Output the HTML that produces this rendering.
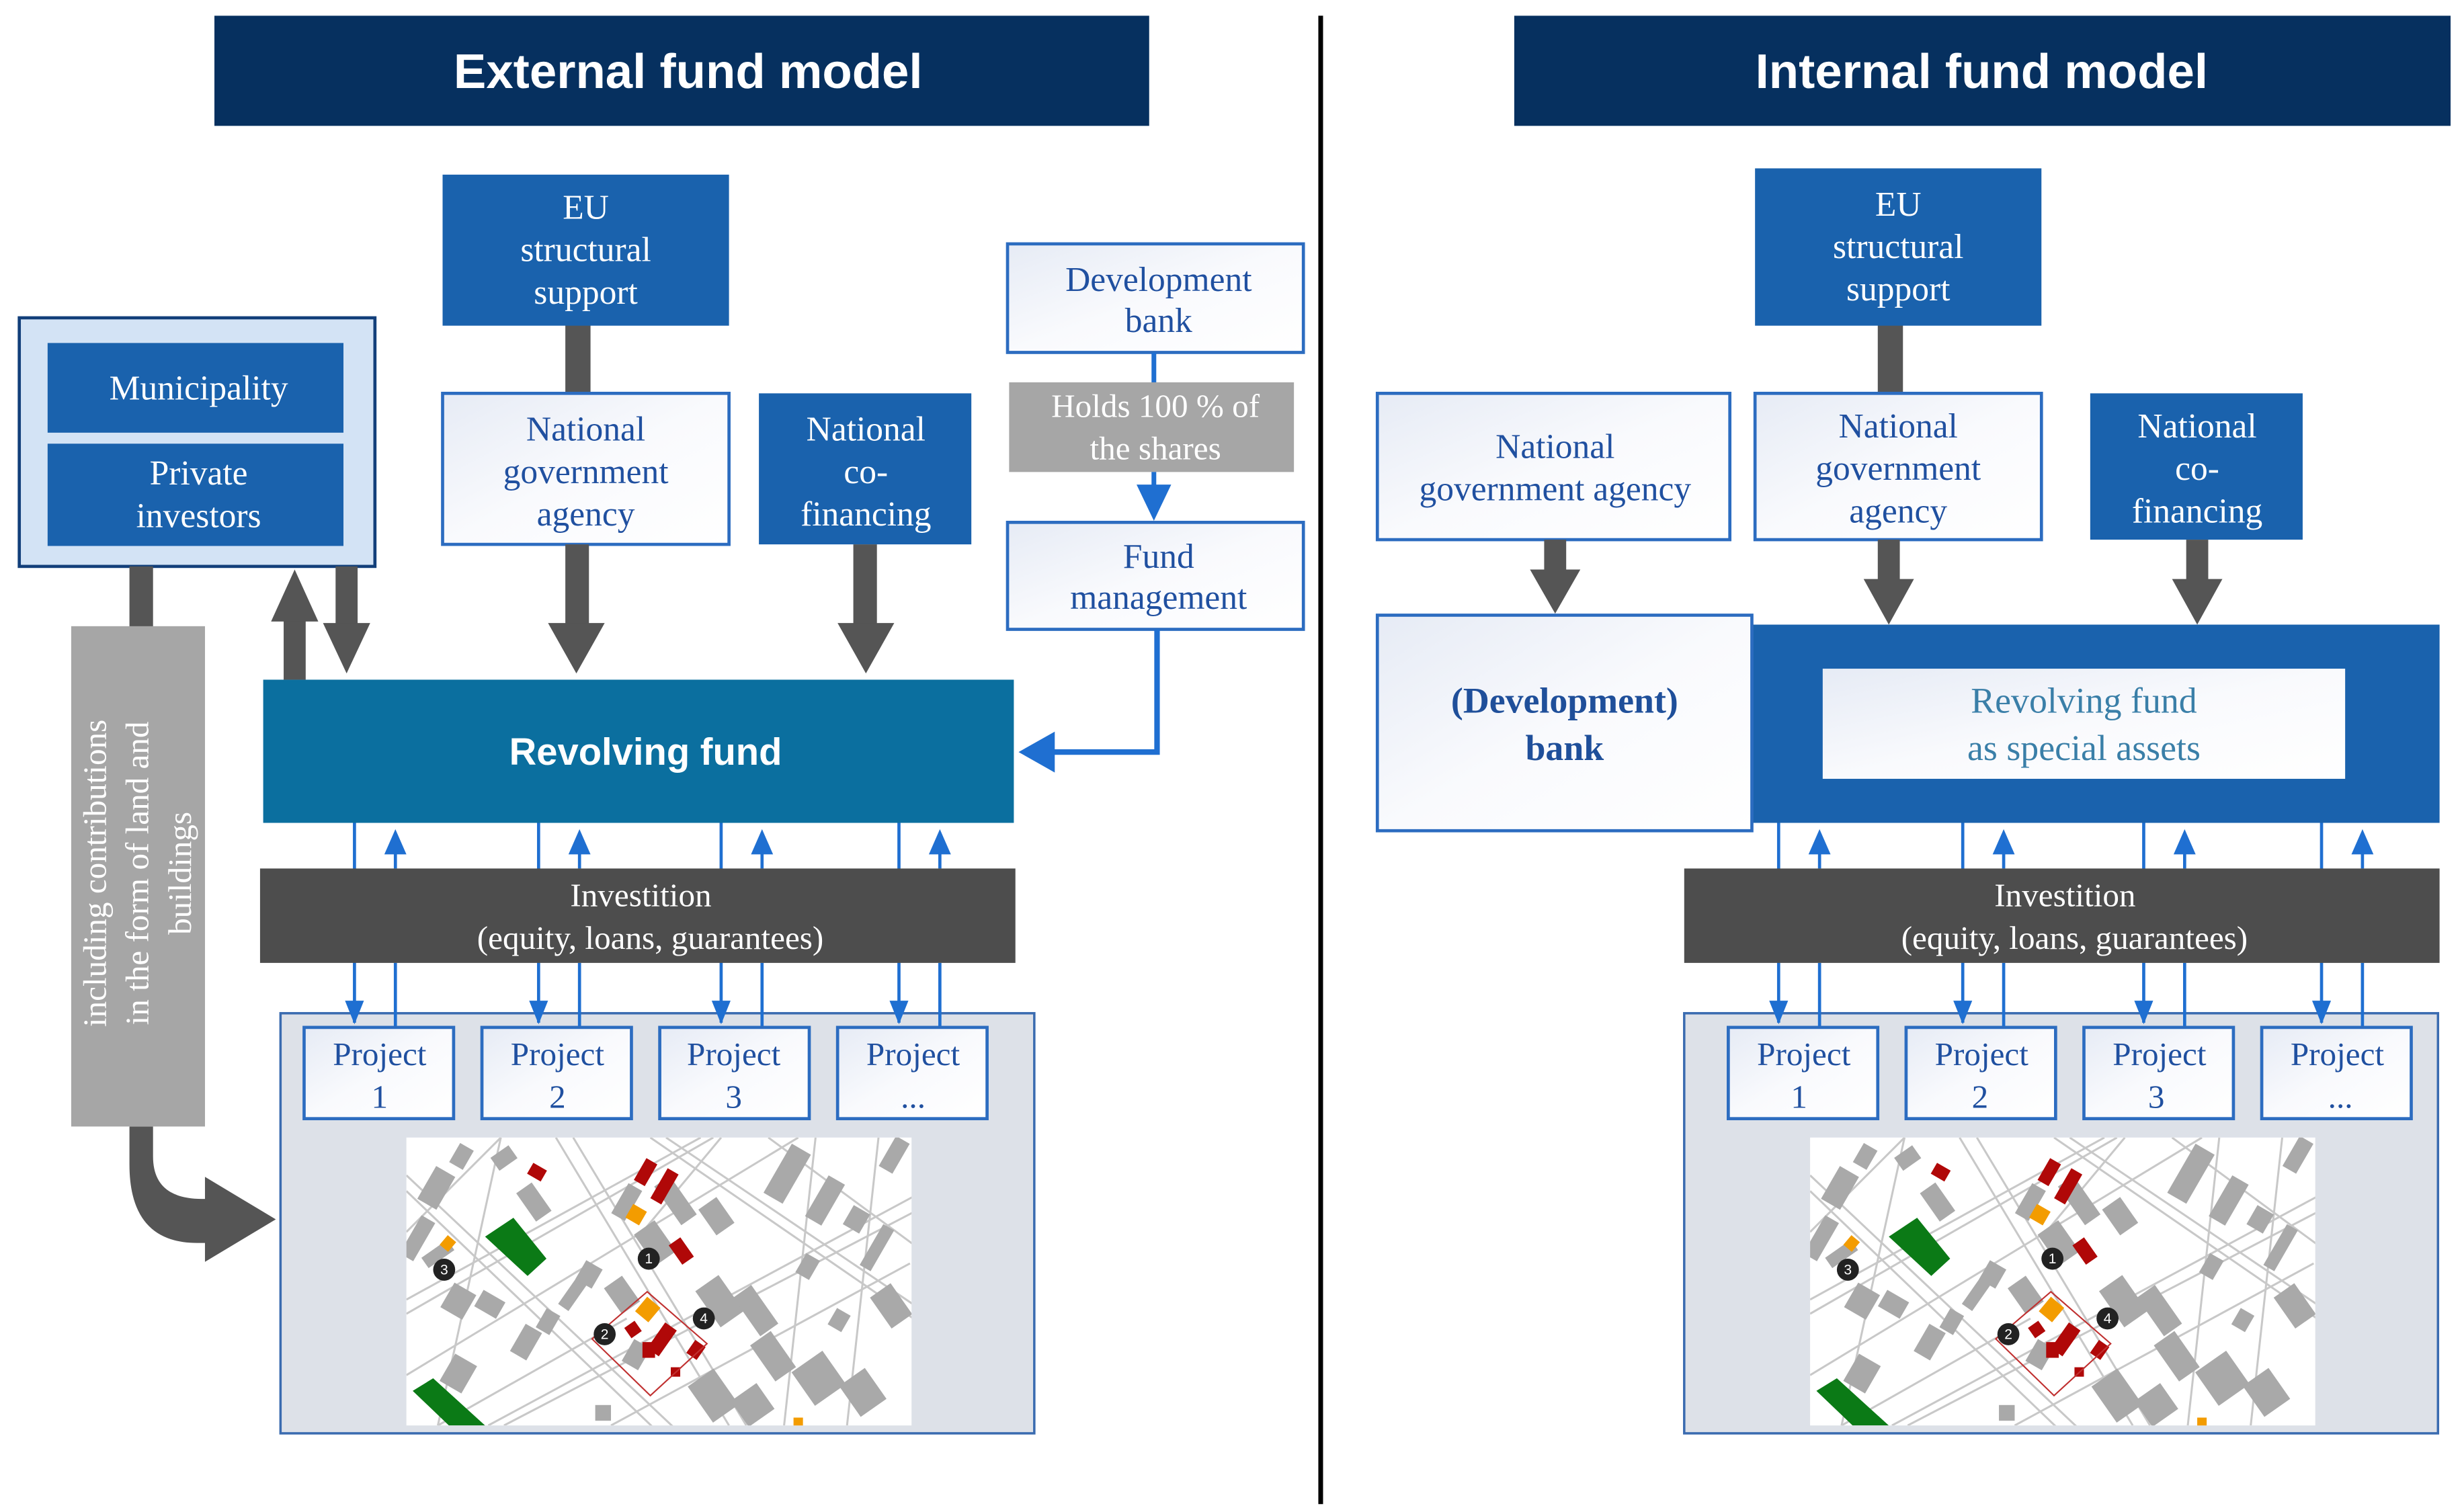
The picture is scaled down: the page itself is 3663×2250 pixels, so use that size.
<!DOCTYPE html>
<html><head><meta charset="utf-8"><style>html,body{margin:0;padding:0;background:#fff}svg{display:block}</style></head>
<body>
<svg width="3663" height="2250" viewBox="0 0 1564 961" xmlns="http://www.w3.org/2000/svg" font-family="'Liberation Serif', serif">
<defs>
<linearGradient id="wg" x1="0" y1="0" x2="1" y2="1"><stop offset="0" stop-color="#e6ebf5"/><stop offset="0.5" stop-color="#f9fafd"/><stop offset="1" stop-color="#ffffff"/></linearGradient>
<clipPath id="mc"><rect x="0" y="0" width="321" height="183"/></clipPath>
<g id="map">
<rect x="0" y="0" width="321" height="183" fill="#fff"/>
<g clip-path="url(#mc)">
<g stroke="#c8c8c8" stroke-width="1.3" fill="none">
<line x1="95" y1="0" x2="205" y2="183"/><line x1="106" y1="0" x2="216" y2="183"/>
<line x1="0" y1="24" x2="176" y2="190"/><line x1="0" y1="34" x2="168" y2="195"/>
<line x1="155" y1="0" x2="325" y2="117"/><line x1="165" y1="0" x2="325" y2="108"/>
<line x1="0" y1="103" x2="187" y2="0"/><line x1="0" y1="112" x2="195" y2="0"/>
<line x1="0" y1="151" x2="249" y2="0"/><line x1="52" y1="183" x2="325" y2="36"/><line x1="62" y1="183" x2="325" y2="46"/>
<line x1="20" y1="183" x2="140" y2="115"/><line x1="230" y1="0" x2="325" y2="70"/><line x1="260" y1="0" x2="240" y2="183"/>
<line x1="300" y1="0" x2="280" y2="183"/><line x1="60" y1="0" x2="20" y2="183"/><line x1="130" y1="183" x2="320" y2="80"/>
<line x1="200" y1="0" x2="150" y2="60"/><line x1="0" y1="60" x2="60" y2="0"/>
</g>
<g fill="#a9a9a9">
<rect x="12" y="20" width="14" height="24" transform="rotate(30 19 32)"/>
<rect x="30" y="5" width="10" height="14" transform="rotate(30 35 12)"/>
<rect x="55" y="8" width="14" height="10" transform="rotate(-35 62 13)"/>
<rect x="75" y="30" width="12" height="22" transform="rotate(-35 81 41)"/>
<rect x="2" y="50" width="10" height="28" transform="rotate(30 7 64)"/>
<rect x="10" y="70" width="20" height="8" transform="rotate(-35 20 74)"/>
<rect x="45" y="100" width="16" height="12" transform="rotate(30 53 106)"/>
<rect x="25" y="95" width="16" height="18" transform="rotate(30 33 104)"/>
<rect x="95" y="95" width="22" height="8" transform="rotate(-55 106 99)"/>
<rect x="85" y="110" width="10" height="14" transform="rotate(30 90 117)"/>
<rect x="70" y="120" width="12" height="20" transform="rotate(30 76 130)"/>
<rect x="110" y="80" width="12" height="14" transform="rotate(30 116 87)"/>
<rect x="130" y="90" width="14" height="20" transform="rotate(-35 137 100)"/>
<rect x="135" y="30" width="10" height="22" transform="rotate(30 140 41)"/>
<rect x="150" y="55" width="16" height="24" transform="rotate(-35 158 67)"/>
<rect x="165" y="25" width="12" height="30" transform="rotate(-35 171 40)"/>
<rect x="190" y="40" width="14" height="20" transform="rotate(-35 197 50)"/>
<rect x="235" y="5" width="14" height="36" transform="rotate(30 242 23)"/>
<rect x="260" y="25" width="12" height="30" transform="rotate(30 266 40)"/>
<rect x="280" y="45" width="12" height="14" transform="rotate(30 286 52)"/>
<rect x="295" y="55" width="8" height="30" transform="rotate(30 299 70)"/>
<rect x="305" y="0" width="10" height="22" transform="rotate(30 310 11)"/>
<rect x="190" y="90" width="18" height="28" transform="rotate(-35 199 104)"/>
<rect x="215" y="95" width="14" height="30" transform="rotate(-35 222 110)"/>
<rect x="225" y="125" width="16" height="28" transform="rotate(-35 233 139)"/>
<rect x="250" y="140" width="24" height="26" transform="rotate(-35 262 153)"/>
<rect x="280" y="150" width="20" height="24" transform="rotate(-35 290 162)"/>
<rect x="300" y="95" width="16" height="24" transform="rotate(-35 308 107)"/>
<rect x="185" y="150" width="20" height="28" transform="rotate(-35 195 164)"/>
<rect x="210" y="160" width="20" height="20" transform="rotate(-35 220 170)"/>
<rect x="140" y="130" width="12" height="16" transform="rotate(30 146 138)"/>
<rect x="25" y="140" width="16" height="20" transform="rotate(30 33 150)"/>
<rect x="120" y="170" width="10" height="10"/>
<rect x="250" y="75" width="10" height="14" transform="rotate(30 255 82)"/>
<rect x="270" y="110" width="10" height="12" transform="rotate(30 275 116)"/>
</g>
<polygon points="50,63 68,51 89,77 77,88" fill="#0b7a16"/>
<polygon points="4,161 17,153 50,183 27,183" fill="#0b7a16"/>
<g fill="#b00808">
<rect x="148" y="14" width="8" height="16" transform="rotate(30 152 22)"/>
<rect x="160" y="20" width="8" height="22" transform="rotate(30 164 31)"/>
<rect x="78" y="18" width="10" height="8" transform="rotate(30 83 22)"/>
<rect x="170" y="65" width="9" height="15" transform="rotate(-35 174 72)"/>
<rect x="140" y="118" width="8" height="8" transform="rotate(-35 144 122)"/>
<rect x="158" y="118" width="9" height="20" transform="rotate(35 162 128)"/>
<rect x="150" y="130" width="8" height="10"/>
<rect x="180" y="130" width="8" height="10" transform="rotate(35 184 135)"/>
<rect x="168" y="146" width="6" height="6"/>
</g>
<g fill="#f39c00">
<rect x="141" y="44" width="10" height="10" transform="rotate(30 146 49)"/>
<rect x="23" y="63" width="7" height="8" transform="rotate(40 26 67)"/>
<rect x="148" y="103" width="11" height="12" transform="rotate(40 153 109)"/>
<rect x="246" y="178" width="6" height="6"/>
</g>
<polygon points="153,98 191,131 155,164 118,128" fill="none" stroke="#c03030" stroke-width="0.9"/>
<g fill="#222"><circle cx="154" cy="77" r="7"/><circle cx="126" cy="125" r="7"/><circle cx="24" cy="84" r="7"/><circle cx="189" cy="115" r="7"/></g>
</g>
</g>
<marker id="ba" viewBox="0 0 10 10" refX="9" refY="5" markerWidth="4" markerHeight="4" orient="auto-start-reverse"><path d="M0,0 L10,5 L0,10z" fill="#1f6fd1"/></marker>
</defs>

<!-- titles -->
<rect x="136" y="10" width="594" height="70" fill="#06305f"/>
<text x="437" y="56" text-anchor="middle" font-family="'Liberation Sans',sans-serif" font-weight="bold" font-size="31" fill="#fff">External fund model</text>
<rect x="962" y="10" width="595" height="70" fill="#06305f"/>
<text x="1259" y="56" text-anchor="middle" font-family="'Liberation Sans',sans-serif" font-weight="bold" font-size="31" fill="#fff">Internal fund model</text>
<line x1="839" y1="10" x2="839" y2="956" stroke="#000" stroke-width="3"/>

<!-- LEFT -->
<rect x="359" y="205" width="16" height="47" fill="#555"/>
<rect x="281" y="111" width="182" height="96" fill="#1a62ad"/>
<g font-size="22" fill="#fff" text-anchor="middle"><text x="372" y="139">EU</text><text x="372" y="166">structural</text><text x="372" y="193">support</text></g>

<rect x="12" y="202" width="226" height="158" fill="#d3e3f5" stroke="#123f7a" stroke-width="2"/>
<rect x="30" y="218" width="188" height="57" fill="#1a62ad"/>
<rect x="30" y="282" width="188" height="65" fill="#1a62ad"/>
<g font-size="22" fill="#fff" text-anchor="middle"><text x="126" y="254">Municipality</text><text x="126" y="308">Private</text><text x="126" y="335">investors</text></g>

<rect x="281" y="250" width="182" height="96" fill="url(#wg)" stroke="#2c6cc0" stroke-width="2"/>
<g font-size="22" fill="#2050a0" text-anchor="middle"><text x="372" y="280">National</text><text x="372" y="307">government</text><text x="372" y="334">agency</text></g>
<rect x="482" y="250" width="135" height="96" fill="#1a62ad"/>
<g font-size="22" fill="#fff" text-anchor="middle"><text x="550" y="280">National</text><text x="550" y="307">co-</text><text x="550" y="334">financing</text></g>

<rect x="640" y="155" width="188" height="69" fill="url(#wg)" stroke="#2c6cc0" stroke-width="2"/>
<g font-size="22" fill="#2050a0" text-anchor="middle"><text x="736" y="185">Development</text><text x="736" y="211">bank</text></g>
<line x1="733" y1="224" x2="733" y2="244" stroke="#1f6fd1" stroke-width="3"/>
<rect x="641" y="243" width="181" height="57" fill="#a6a6a6"/>
<g font-size="21" fill="#fff" text-anchor="middle"><text x="734" y="265">Holds 100 % of</text><text x="734" y="292">the shares</text></g>
<line x1="733" y1="300" x2="733" y2="318" stroke="#1f6fd1" stroke-width="3"/>
<polygon points="722,308 744,308 733,331" fill="#1f6fd1"/>
<rect x="640" y="332" width="188" height="68" fill="url(#wg)" stroke="#2c6cc0" stroke-width="2"/>
<g font-size="22" fill="#2050a0" text-anchor="middle"><text x="736" y="361">Fund</text><text x="736" y="387">management</text></g>
<polyline points="735,400 735,478 668,478" fill="none" stroke="#1f6fd1" stroke-width="3.5"/>
<polygon points="670,465 670,491 647,478" fill="#1f6fd1"/>

<rect x="167" y="432" width="477" height="91" fill="#0b6f9f"/>
<text x="410" y="486" text-anchor="middle" font-family="'Liberation Sans',sans-serif" font-weight="bold" font-size="24" fill="#fff">Revolving fund</text>

<g fill="#555">
<rect x="359" y="346" width="15" height="52"/><polygon points="348,396 384,396 366,428"/>
<rect x="542" y="346" width="15" height="52"/><polygon points="532,396 568,396 550,428"/>
<rect x="180" y="392" width="14" height="40"/><polygon points="172,395 202,395 187,362"/>
<rect x="213" y="360" width="14" height="38"/><polygon points="205,396 235,396 220,428"/>
<rect x="82" y="360" width="15" height="40"/>
<path d="M82,716 L97,716 L97,735 Q97,762 128,762 L130,762 L130,748 L175,775 L130,802 L130,790 L125,790 Q82,790 82,740 Z"/>
</g>
<rect x="45" y="398" width="85" height="318" fill="#a6a6a6"/>
<g font-size="21" fill="#fff" text-anchor="middle">
<text transform="translate(67,555) rotate(-90)">including contributions</text>
<text transform="translate(94,555) rotate(-90)">in the form of land and</text>
<text transform="translate(121,555) rotate(-90)">buildings</text>
</g>

<!-- left investition and projects -->
<rect x="178" y="644" width="479" height="267" fill="#dde1e8" stroke="#3a6bb0" stroke-width="1.5"/>
<g stroke="#1f6fd1" stroke-width="2" fill="none">
<line x1="225" y1="523" x2="225" y2="650"/><line x1="251" y1="552" x2="251" y2="536"/><line x1="251" y1="612" x2="251" y2="653"/>
<line x1="342" y1="523" x2="342" y2="650"/><line x1="368" y1="552" x2="368" y2="536"/><line x1="368" y1="612" x2="368" y2="653"/>
<line x1="458" y1="523" x2="458" y2="650"/><line x1="484" y1="552" x2="484" y2="536"/><line x1="484" y1="612" x2="484" y2="653"/>
<line x1="571" y1="523" x2="571" y2="650"/><line x1="597" y1="552" x2="597" y2="536"/><line x1="597" y1="612" x2="597" y2="653"/>
</g>
<g fill="#1f6fd1">
<polygon points="244,543 258,543 251,527"/><polygon points="361,543 375,543 368,527"/><polygon points="477,543 491,543 484,527"/><polygon points="590,543 604,543 597,527"/>
<polygon points="219,636 231,636 225,651"/><polygon points="336,636 348,636 342,651"/><polygon points="452,636 464,636 458,651"/><polygon points="565,636 577,636 571,651"/>
</g>
<rect x="165" y="552" width="480" height="60" fill="#4d4d4d"/>
<g font-size="21" fill="#fff" text-anchor="middle"><text x="407" y="576">Investition</text><text x="413" y="603">(equity, loans, guarantees)</text></g>
<g fill="url(#wg)" stroke="#2c6cc0" stroke-width="2">
<rect x="193" y="653" width="95" height="58"/><rect x="306" y="653" width="95" height="58"/><rect x="419" y="653" width="95" height="58"/><rect x="532" y="653" width="95" height="58"/>
</g>
<g font-size="21" fill="#2050a0" text-anchor="middle">
<text x="241" y="677">Project</text><text x="241" y="704">1</text>
<text x="354" y="677">Project</text><text x="354" y="704">2</text>
<text x="466" y="677">Project</text><text x="466" y="704">3</text>
<text x="580" y="677">Project</text><text x="580" y="704">...</text>
</g>
<use href="#map" transform="translate(258,723)"/>
<g font-size="9" fill="#fff" text-anchor="middle" font-family="'Liberation Sans',sans-serif"><text x="412" y="803">1</text><text x="384" y="851">2</text><text x="282" y="810">3</text><text x="447" y="841">4</text></g>

<!-- RIGHT -->
<rect x="1193" y="205" width="16" height="47" fill="#555"/>
<rect x="1115" y="107" width="182" height="100" fill="#1a62ad"/>
<g font-size="22" fill="#fff" text-anchor="middle"><text x="1206" y="137">EU</text><text x="1206" y="164">structural</text><text x="1206" y="191">support</text></g>
<rect x="875" y="250" width="224" height="93" fill="url(#wg)" stroke="#2c6cc0" stroke-width="2"/>
<g font-size="22" fill="#2050a0" text-anchor="middle"><text x="988" y="291">National</text><text x="988" y="318">government agency</text></g>
<rect x="1115" y="250" width="182" height="93" fill="url(#wg)" stroke="#2c6cc0" stroke-width="2"/>
<g font-size="22" fill="#2050a0" text-anchor="middle"><text x="1206" y="278">National</text><text x="1206" y="305">government</text><text x="1206" y="332">agency</text></g>
<rect x="1328" y="250" width="135" height="93" fill="#1a62ad"/>
<g font-size="22" fill="#fff" text-anchor="middle"><text x="1396" y="278">National</text><text x="1396" y="305">co-</text><text x="1396" y="332">financing</text></g>
<g fill="#555">
<rect x="981" y="343" width="14" height="20"/><polygon points="972,362 1004,362 988,390"/>
<rect x="1193" y="343" width="14" height="26"/><polygon points="1184,368 1216,368 1200,397"/>
<rect x="1389" y="343" width="14" height="26"/><polygon points="1380,368 1412,368 1396,397"/>
</g>
<rect x="1113" y="397" width="437" height="126" fill="#1a62ad"/>
<rect x="1158" y="425" width="332" height="70" fill="url(#wg)"/>
<g font-size="23" fill="#3a7fa8" text-anchor="middle"><text x="1324" y="453">Revolving fund</text><text x="1324" y="483">as special assets</text></g>
<rect x="875" y="391" width="238" height="137" fill="url(#wg)" stroke="#2c6cc0" stroke-width="2"/>
<g font-size="23" font-weight="bold" fill="#1f4f9a" text-anchor="middle"><text x="994" y="453">(Development)</text><text x="994" y="483">bank</text></g>

<rect x="1070" y="644" width="479" height="267" fill="#dde1e8" stroke="#3a6bb0" stroke-width="1.5"/>
<g stroke="#1f6fd1" stroke-width="2" fill="none">
<line x1="1130" y1="523" x2="1130" y2="650"/><line x1="1156" y1="552" x2="1156" y2="536"/><line x1="1156" y1="612" x2="1156" y2="653"/>
<line x1="1247" y1="523" x2="1247" y2="650"/><line x1="1273" y1="552" x2="1273" y2="536"/><line x1="1273" y1="612" x2="1273" y2="653"/>
<line x1="1362" y1="523" x2="1362" y2="650"/><line x1="1388" y1="552" x2="1388" y2="536"/><line x1="1388" y1="612" x2="1388" y2="653"/>
<line x1="1475" y1="523" x2="1475" y2="650"/><line x1="1501" y1="552" x2="1501" y2="536"/><line x1="1501" y1="612" x2="1501" y2="653"/>
</g>
<g fill="#1f6fd1">
<polygon points="1149,543 1163,543 1156,527"/><polygon points="1266,543 1280,543 1273,527"/><polygon points="1381,543 1395,543 1388,527"/><polygon points="1494,543 1508,543 1501,527"/>
<polygon points="1124,636 1136,636 1130,651"/><polygon points="1241,636 1253,636 1247,651"/><polygon points="1356,636 1368,636 1362,651"/><polygon points="1469,636 1481,636 1475,651"/>
</g>
<rect x="1070" y="552" width="480" height="60" fill="#4d4d4d"/>
<g font-size="21" fill="#fff" text-anchor="middle"><text x="1312" y="576">Investition</text><text x="1318" y="603">(equity, loans, guarantees)</text></g>
<g fill="url(#wg)" stroke="#2c6cc0" stroke-width="2">
<rect x="1098" y="653" width="95" height="58"/><rect x="1211" y="653" width="95" height="58"/><rect x="1324" y="653" width="95" height="58"/><rect x="1437" y="653" width="95" height="58"/>
</g>
<g font-size="21" fill="#2050a0" text-anchor="middle">
<text x="1146" y="677">Project</text><text x="1143" y="704">1</text>
<text x="1259" y="677">Project</text><text x="1258" y="704">2</text>
<text x="1372" y="677">Project</text><text x="1370" y="704">3</text>
<text x="1485" y="677">Project</text><text x="1487" y="704">...</text>
</g>
<use href="#map" transform="translate(1150,723)"/>
<g font-size="9" fill="#fff" text-anchor="middle" font-family="'Liberation Sans',sans-serif"><text x="1304" y="803">1</text><text x="1276" y="851">2</text><text x="1174" y="810">3</text><text x="1339" y="841">4</text></g>
</svg>
</body></html>
